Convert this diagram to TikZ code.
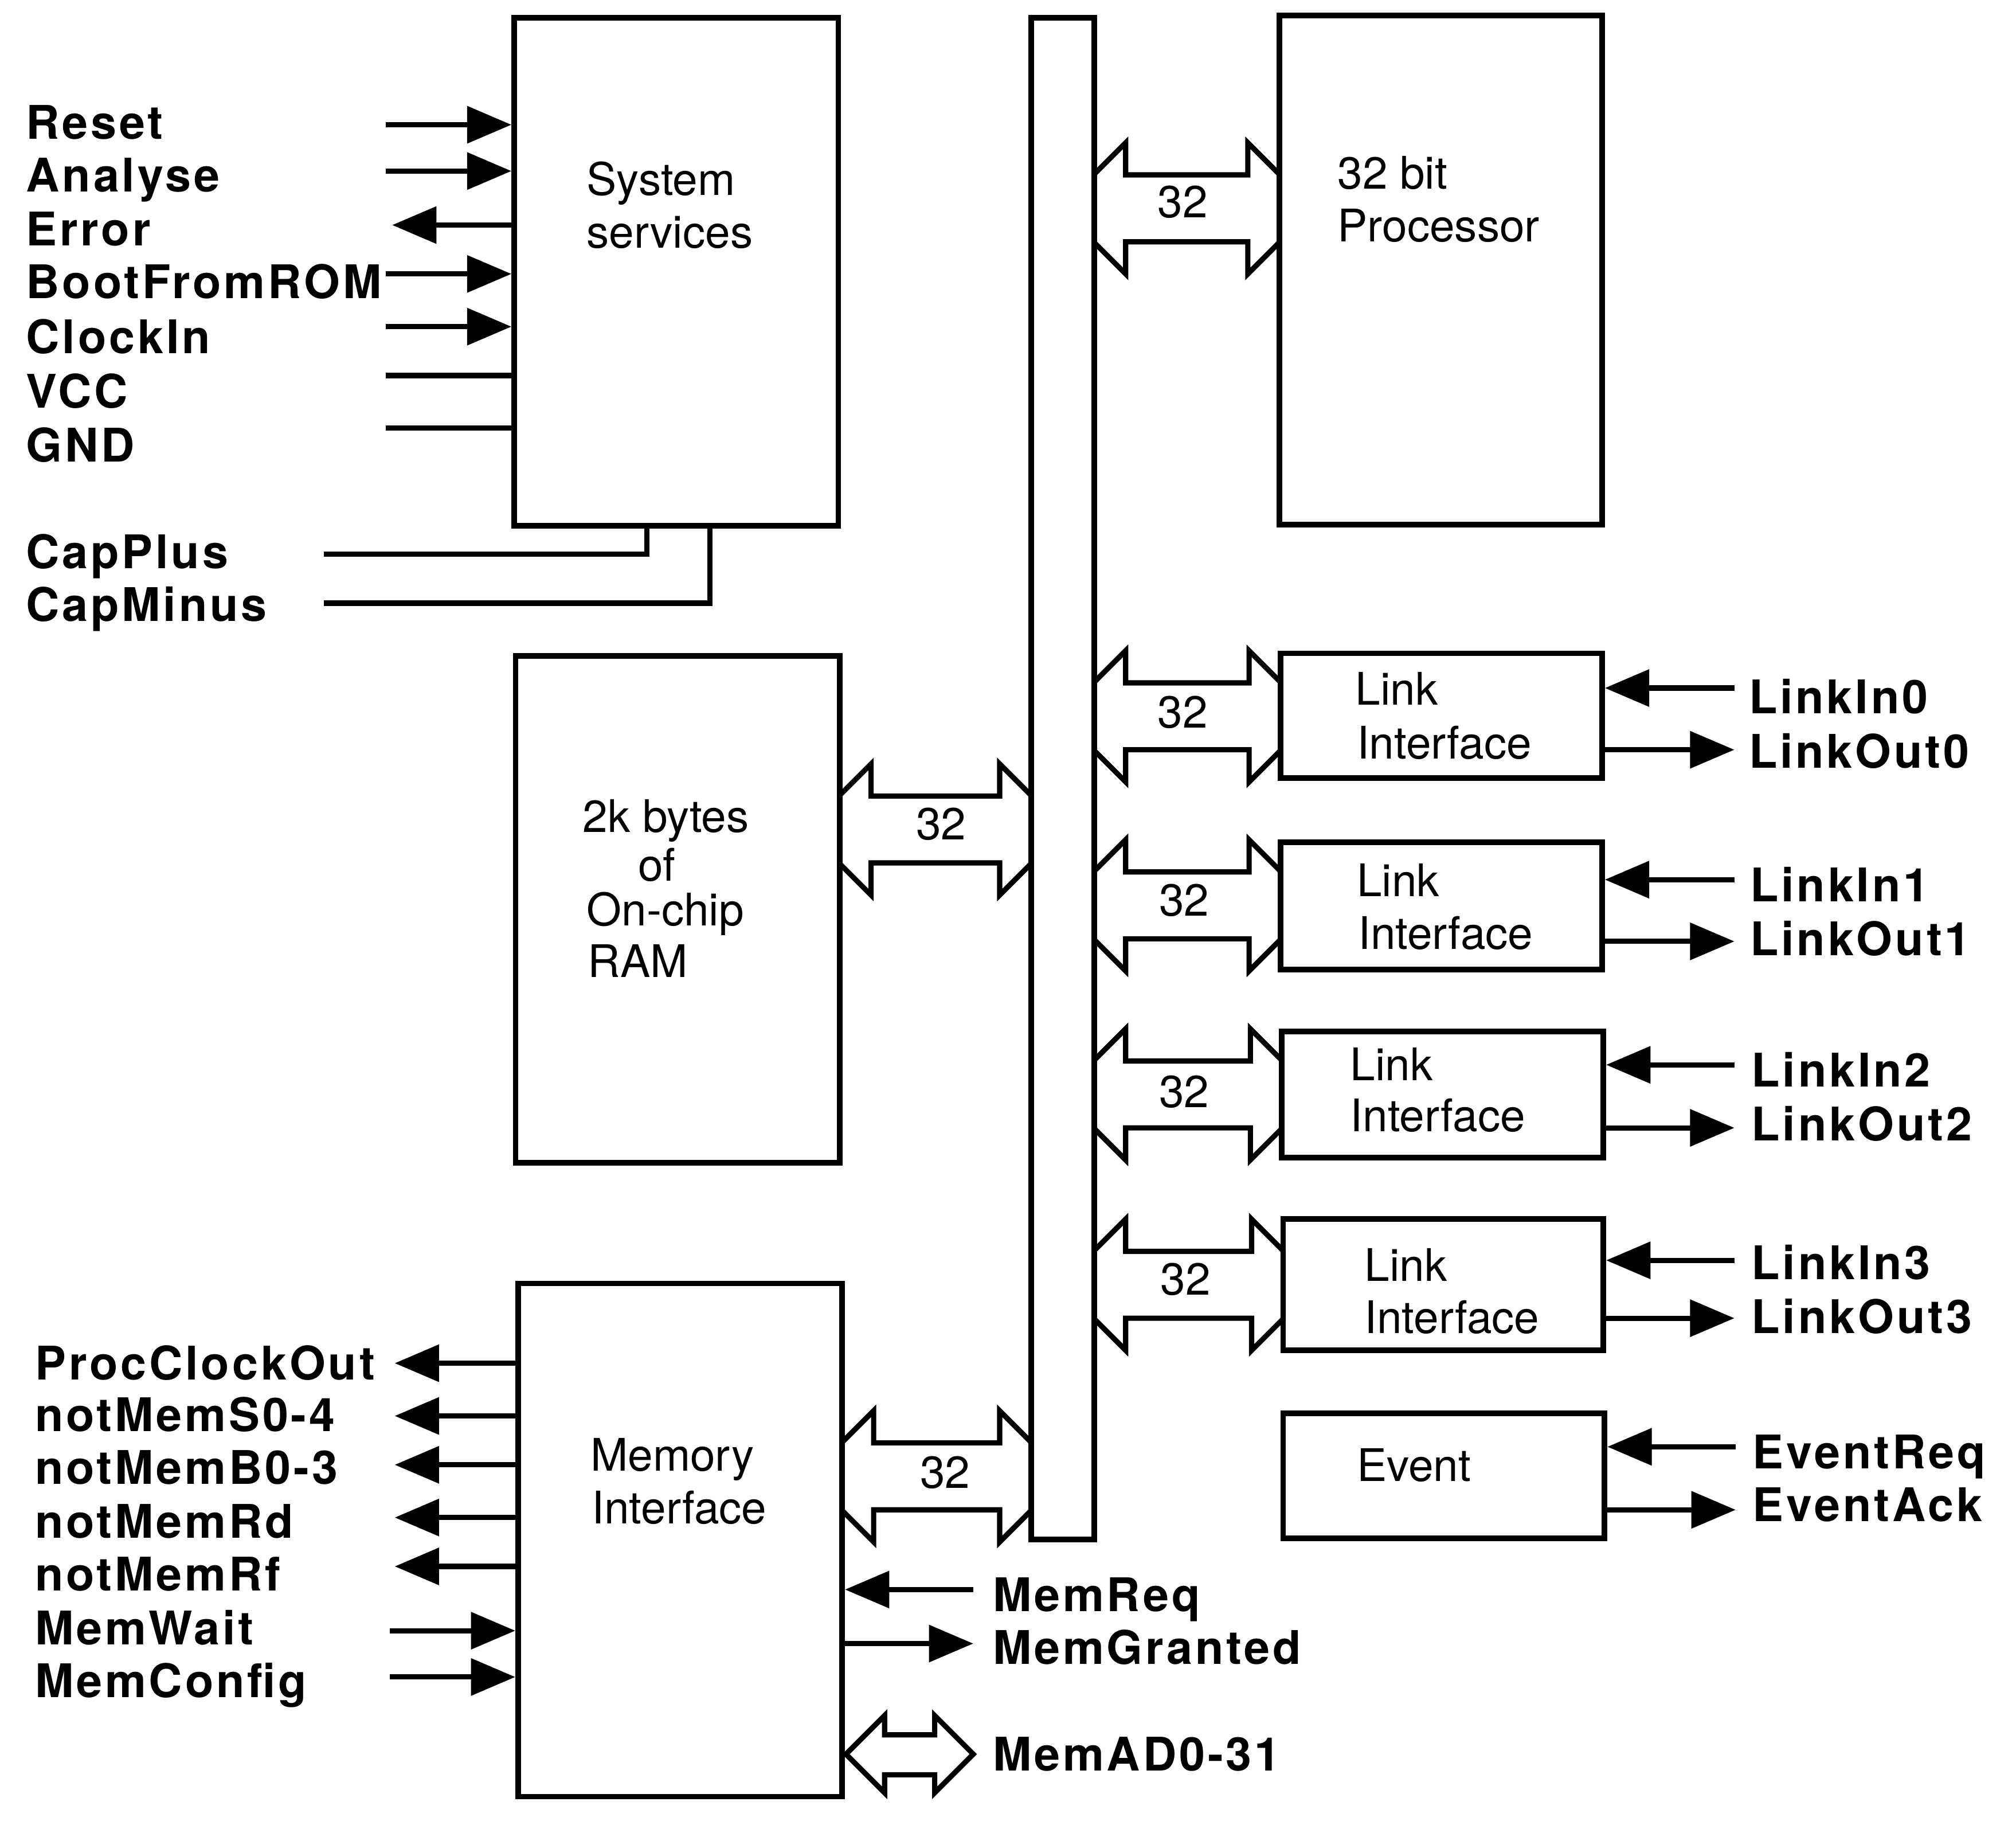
\documentclass[tikz,border=0pt]{standalone}
\usepackage{fontspec}
\setmainfont{TeX Gyre Heros}
\newfontfamily\sigfont[LetterSpace=6]{TeX Gyre Heros}
\usetikzlibrary{arrows.meta,fit}
\newcommand\fatbus[3]{%
  \draw[fat] (#1,#3-26.5) -- (#1+24.5,#3-51) -- (#1+24.5,#3-26) -- (#2-24.5,#3-26) -- (#2-24.5,#3-51) -- (#2,#3-26.5)
    -- (#2,#3+26.5) -- (#2-24.5,#3+51) -- (#2-24.5,#3+26) -- (#1+24.5,#3+26) -- (#1+24.5,#3+51) -- (#1,#3+26.5) -- cycle;}
\begin{document}
\begin{tikzpicture}[x=0.02243cm,y=-0.02243cm,
  box/.style={draw, line width=2.8pt, inner sep=0pt},
  sig/.style={line width=2.6pt},
  tip/.style={-{Triangle[length=22pt,width=18pt]}},
  fat/.style={line width=2.6pt, line join=miter, miter limit=3},
  txt/.style={font=\fontsize{22.3}{27}\selectfont, inner sep=0pt, anchor=base west},
  lbl/.style={font=\sigfont\bfseries\fontsize{23}{28}\selectfont, inner sep=0pt, anchor=base west},
  num/.style={font=\fontsize{22.3}{27}\selectfont, inner sep=0pt}]
\useasboundingbox (0,0) rectangle (1568,1419);

% blocks
\node[box, fit={(400,14) (652,409)}] (ss) {};
\node[box, fit={(802,14) (851,1197)}] (bus) {};
\node[box, fit={(995,12) (1246,408)}] (proc) {};
\node[box, fit={(401,510) (653,904)}] (ram) {};
\node[box, fit={(403,998) (655,1397)}] (mem) {};
\node[box, fit={(996,508) (1246,605)}] (li0) {};
\node[box, fit={(996,655) (1246,754)}] (li1) {};
\node[box, fit={(997,802) (1247,900)}] (li2) {};
\node[box, fit={(998,948) (1247,1050)}] (li3) {};
\node[box, fit={(998,1099) (1248,1196)}] (ev) {};

% block texts
\node[txt] (tss1) at (456,152) {System};
\node[txt] (tss2) at (456,193) {services};
\node[txt] (tpr1) at (1040,147) {32 bit};
\node[txt] (tpr2) at (1040,188) {Processor};
\node[txt] (tra1) at (453,647) {2k bytes};
\node[txt] (tra2) at (496,685) {of};
\node[txt] (tra3) at (456,720) {On-chip};
\node[txt] (tra4) at (457,760) {RAM};
\node[txt] (tme1) at (459,1144) {Memory};
\node[txt] (tme2) at (460,1185) {Interface};
\node[txt] (tl01) at (1054,548) {Link};
\node[txt] (tl02) at (1055,590) {Interface};
\node[txt] (tl11) at (1055,697) {Link};
\node[txt] (tl12) at (1056,738) {Interface};
\node[txt] (tl21) at (1050,840) {Link};
\node[txt] (tl22) at (1050,880) {Interface};
\node[txt] (tl31) at (1061,996) {Link};
\node[txt] (tl32) at (1061,1037) {Interface};
\node[txt] (tev) at (1055,1152) {Event};

% 32-bit buses
\fatbus{851}{995}{162}
\fatbus{653}{802}{645}
\fatbus{655}{802}{1148}
\fatbus{851}{996}{557}
\fatbus{851}{996}{704}
\fatbus{851}{997}{851}
\fatbus{851}{998}{999}
\node[num] (n1) at (920,157) {32};
\node[num] (n2) at (732,641) {32};
\node[num] (n3) at (735,1145) {32};
\node[num] (n4) at (920,554) {32};
\node[num] (n5) at (921,700) {32};
\node[num] (n6) at (921,849) {32};
\node[num] (n7) at (922,995) {32};

% system services signals
\foreach \nm/\y/\b in {Reset/97/108, Analyse/133/149, BootFromROM/213/232, ClockIn/254/275} {
  \coordinate (p\nm) at (300,\y);
  \draw[sig,tip] (p\nm) -- (p\nm -| ss.west);
  \node[lbl] (t\nm) at (20,\b) {\nm};
}
\coordinate (pError) at (305,175);
\draw[sig,tip] (pError -| ss.west) -- (pError);
\node[lbl] (tError) at (20,191) {Error};
\foreach \nm/\y/\b in {VCC/292/317, GND/333/359} {
  \coordinate (p\nm) at (300,\y);
  \draw[sig] (p\nm) -- (p\nm -| ss.west);
  \node[lbl] (t\nm) at (20,\b) {\nm};
}
\coordinate (pCapP) at (252,431);
\coordinate (cCapP) at (503,431);
\draw[sig] (pCapP) -- (cCapP) -- (cCapP |- ss.south);
\node[lbl] (tCapP) at (20,442) {CapPlus};
\coordinate (pCapM) at (252,469);
\coordinate (cCapM) at (552,469);
\draw[sig] (pCapM) -- (cCapM) -- (cCapM |- ss.south);
\node[lbl] (tCapM) at (20,483) {CapMinus};

% memory interface signals
\foreach \k/\txt/\y/\b in {m1/ProcClockOut/1060/1073, m2/notMemS0-4/1101/1113, m3/notMemB0-3/1139/1154, m4/notMemRd/1180/1196, m5/notMemRf/1218/1237} {
  \coordinate (p\k) at (307,\y);
  \draw[sig,tip] (p\k -| mem.west) -- (p\k);
  \node[lbl] (t\k) at (27,\b) {\txt};
}
\foreach \k/\txt/\y/\b in {m6/MemWait/1268/1279, m7/MemConfig/1304/1320} {
  \coordinate (p\k) at (303,\y);
  \draw[sig,tip] (p\k) -- (p\k -| mem.west);
  \node[lbl] (t\k) at (27,\b) {\txt};
}
\coordinate (pReq) at (757,1236);
\draw[sig,tip] (pReq) -- (pReq -| mem.east);
\node[lbl] (tReq) at (772,1253) {MemReq};
\coordinate (pGnt) at (757,1278);
\draw[sig,tip] (pGnt -| mem.east) -- (pGnt);
\node[lbl] (tGnt) at (772,1294) {MemGranted};
\draw[fat] (658,1364) -- (688,1334) -- (688,1349) -- (727,1349) -- (727,1334) -- (757,1364)
  -- (727,1394) -- (727,1380) -- (688,1380) -- (688,1394) -- cycle;
\node[lbl] (tAD) at (772,1377) {MemAD0-31};

% link and event signals
\foreach \b/\i/\yi/\yo/\bi/\bo/\xt in {li0/0/535/583/555/597/1360, li1/1/684/732/701/743/1361, li2/2/828/877/845/887/1362, li3/3/980/1025/995/1037/1362} {
  \coordinate (pin\i) at (1349,\yi);
  \coordinate (pout\i) at (1349,\yo);
  \draw[sig,tip] (pin\i) -- (pin\i -| \b.east);
  \draw[sig,tip] (pout\i -| \b.east) -- (pout\i);
  \node[lbl] (tin\i) at (\xt,\bi) {LinkIn\i};
  \node[lbl] (tout\i) at (\xt,\bo) {LinkOut\i};
}
\coordinate (pEvReq) at (1350,1125);
\coordinate (pEvAck) at (1350,1174);
\draw[sig,tip] (pEvReq) -- (pEvReq -| ev.east);
\draw[sig,tip] (pEvAck -| ev.east) -- (pEvAck);
\node[lbl] (tEvReq) at (1363,1142) {EventReq};
\node[lbl] (tEvAck) at (1363,1183) {EventAck};
\end{tikzpicture}
\end{document}
